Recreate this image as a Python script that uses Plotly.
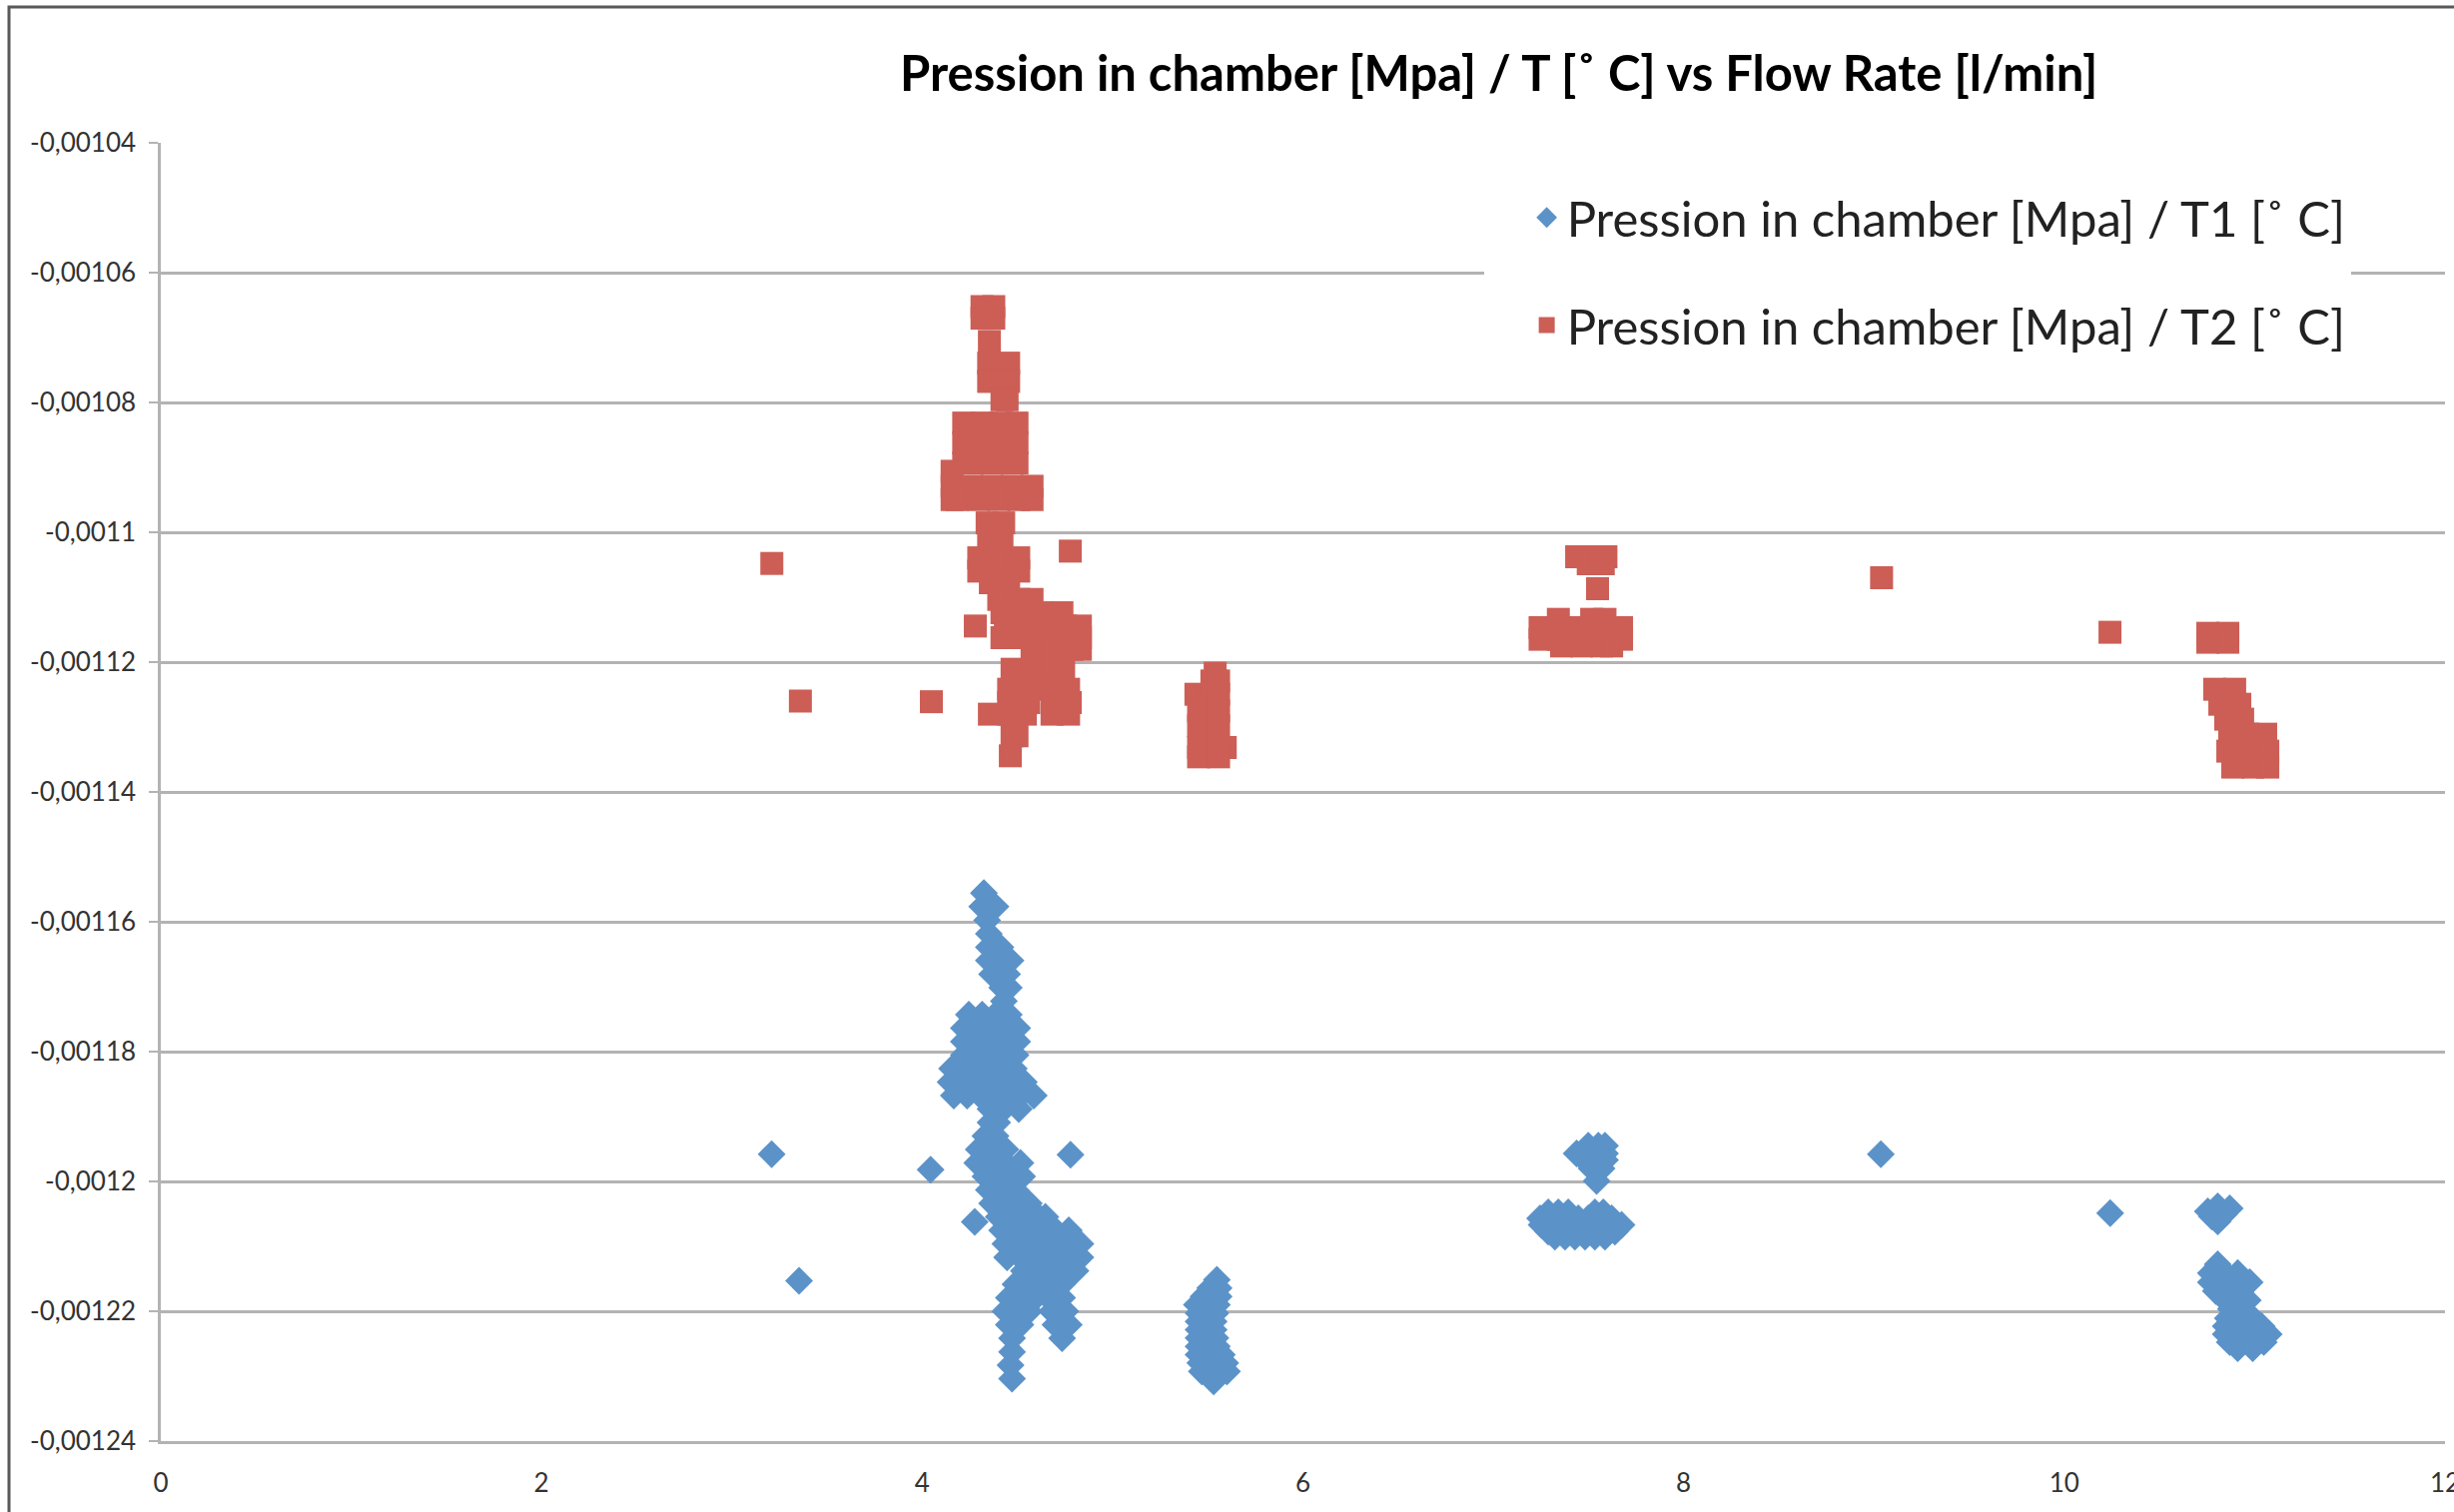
import plotly.graph_objects as go

# ---- Pression / T1 readings (flow rate [l/min], ratio [MPa/°C]) ----
t1_single = [
    (3.209, -1.1958e-3), (3.353, -1.2153e-3), (4.044, -1.1982e-3),
    (4.779, -1.1959e-3), (9.036, -1.1958e-3), (10.241, -1.2049e-3),
    (4.276, -1.20624e-3),
]
t1_run_4 = [
    (4.324, -1.15559e-3),
    (4.315, -1.15767e-3), (4.385, -1.15767e-3),
    (4.341, -1.15975e-3),
    (4.350, -1.16183e-3),
    (4.350, -1.16391e-3), (4.411, -1.16391e-3),
    (4.350, -1.16598e-3), (4.420, -1.16598e-3), (4.464, -1.16598e-3),
    (4.367, -1.16806e-3), (4.446, -1.16806e-3),
    (4.420, -1.17014e-3), (4.455, -1.17014e-3),
    (4.429, -1.17222e-3),
    (4.245, -1.17430e-3), (4.315, -1.17430e-3), (4.385, -1.17430e-3), (4.455, -1.17430e-3),
    (4.219, -1.17637e-3), (4.289, -1.17637e-3), (4.359, -1.17637e-3), (4.429, -1.17637e-3), (4.499, -1.17637e-3),
    (4.219, -1.17845e-3), (4.289, -1.17845e-3), (4.359, -1.17845e-3), (4.429, -1.17845e-3), (4.499, -1.17845e-3),
    (4.219, -1.18053e-3), (4.289, -1.18053e-3), (4.359, -1.18053e-3), (4.429, -1.18053e-3), (4.490, -1.18053e-3),
    (4.157, -1.18261e-3), (4.227, -1.18261e-3), (4.297, -1.18261e-3), (4.367, -1.18261e-3), (4.437, -1.18261e-3), (4.481, -1.18261e-3),
    (4.149, -1.18469e-3), (4.219, -1.18469e-3), (4.289, -1.18469e-3), (4.359, -1.18469e-3), (4.429, -1.18469e-3), (4.499, -1.18469e-3), (4.534, -1.18469e-3),
    (4.166, -1.18676e-3), (4.236, -1.18676e-3), (4.306, -1.18676e-3), (4.376, -1.18676e-3), (4.446, -1.18676e-3), (4.516, -1.18676e-3), (4.586, -1.18676e-3),
    (4.359, -1.18884e-3), (4.429, -1.18884e-3), (4.507, -1.18884e-3),
    (4.359, -1.19092e-3), (4.394, -1.19092e-3),
    (4.332, -1.19300e-3), (4.385, -1.19300e-3),
    (4.297, -1.19508e-3), (4.367, -1.19508e-3), (4.437, -1.19508e-3),
    (4.289, -1.19715e-3), (4.359, -1.19715e-3), (4.437, -1.19715e-3), (4.516, -1.19715e-3),
    (4.332, -1.19923e-3), (4.402, -1.19923e-3), (4.472, -1.19923e-3), (4.525, -1.19923e-3),
    (4.350, -1.20131e-3), (4.420, -1.20131e-3), (4.490, -1.20131e-3),
    (4.367, -1.20339e-3), (4.437, -1.20339e-3), (4.507, -1.20339e-3), (4.560, -1.20339e-3),
    (4.402, -1.20547e-3), (4.472, -1.20547e-3), (4.542, -1.20547e-3), (4.612, -1.20547e-3), (4.647, -1.20547e-3),
    (4.420, -1.20754e-3), (4.490, -1.20754e-3), (4.560, -1.20754e-3), (4.630, -1.20754e-3), (4.700, -1.20754e-3), (4.770, -1.20754e-3),
    (4.437, -1.20962e-3), (4.507, -1.20962e-3), (4.577, -1.20962e-3), (4.647, -1.20962e-3), (4.717, -1.20962e-3), (4.787, -1.20962e-3), (4.831, -1.20962e-3),
    (4.446, -1.21170e-3), (4.516, -1.21170e-3), (4.586, -1.21170e-3), (4.656, -1.21170e-3), (4.726, -1.21170e-3), (4.796, -1.21170e-3), (4.831, -1.21170e-3),
    (4.534, -1.21378e-3), (4.604, -1.21378e-3), (4.674, -1.21378e-3), (4.744, -1.21378e-3), (4.805, -1.21378e-3),
    (4.490, -1.21586e-3), (4.560, -1.21586e-3), (4.630, -1.21586e-3), (4.700, -1.21586e-3), (4.735, -1.21586e-3),
    (4.455, -1.21793e-3), (4.525, -1.21793e-3), (4.595, -1.21793e-3), (4.665, -1.21793e-3), (4.735, -1.21793e-3),
    (4.437, -1.22001e-3), (4.507, -1.22001e-3), (4.560, -1.22001e-3), (4.682, -1.22001e-3), (4.752, -1.22001e-3),
    (4.455, -1.22209e-3), (4.516, -1.22209e-3), (4.700, -1.22209e-3), (4.770, -1.22209e-3),
    (4.472, -1.22417e-3), (4.735, -1.22417e-3),
    (4.472, -1.22625e-3),
    (4.464, -1.22832e-3),
    (4.472, -1.23040e-3),
]
t1_run_5 = [
    (5.548, -1.21516e-3),
    (5.513, -1.21644e-3), (5.557, -1.21644e-3),
    (5.478, -1.21772e-3), (5.531, -1.21772e-3), (5.557, -1.21772e-3),
    (5.443, -1.21901e-3), (5.496, -1.21901e-3), (5.548, -1.21901e-3),
    (5.452, -1.22029e-3), (5.504, -1.22029e-3), (5.540, -1.22029e-3),
    (5.452, -1.22157e-3), (5.496, -1.22157e-3), (5.531, -1.22157e-3),
    (5.452, -1.22285e-3), (5.496, -1.22285e-3), (5.531, -1.22285e-3),
    (5.452, -1.22413e-3), (5.496, -1.22413e-3), (5.540, -1.22413e-3),
    (5.452, -1.22541e-3), (5.496, -1.22541e-3), (5.548, -1.22541e-3),
    (5.452, -1.22669e-3), (5.504, -1.22669e-3), (5.557, -1.22669e-3), (5.574, -1.22669e-3),
    (5.461, -1.22798e-3), (5.513, -1.22798e-3), (5.566, -1.22798e-3), (5.592, -1.22798e-3),
    (5.469, -1.22926e-3), (5.522, -1.22926e-3), (5.574, -1.22926e-3), (5.601, -1.22926e-3),
    (5.531, -1.23080e-3),
]
t1_run_7 = [
    (7.499, -1.19450e-3), (7.552, -1.19450e-3), (7.587, -1.19450e-3),
    (7.438, -1.19568e-3), (7.508, -1.19568e-3), (7.587, -1.19568e-3),
    (7.482, -1.19671e-3), (7.552, -1.19671e-3), (7.587, -1.19671e-3),
    (7.517, -1.19799e-3), (7.569, -1.19799e-3),
    (7.543, -1.19994e-3),
    (7.289, -1.20475e-3), (7.342, -1.20475e-3), (7.394, -1.20475e-3), (7.534, -1.20475e-3), (7.578, -1.20475e-3),
    (7.246, -1.20568e-3), (7.307, -1.20568e-3), (7.377, -1.20568e-3), (7.447, -1.20568e-3), (7.499, -1.20568e-3), (7.569, -1.20568e-3), (7.622, -1.20568e-3),
    (7.254, -1.20670e-3), (7.324, -1.20670e-3), (7.394, -1.20670e-3), (7.464, -1.20670e-3), (7.534, -1.20670e-3), (7.604, -1.20670e-3), (7.674, -1.20670e-3),
    (7.289, -1.20773e-3), (7.359, -1.20773e-3), (7.429, -1.20773e-3), (7.499, -1.20773e-3), (7.569, -1.20773e-3), (7.639, -1.20773e-3),
    (7.324, -1.20850e-3), (7.377, -1.20850e-3), (7.429, -1.20850e-3), (7.482, -1.20850e-3), (7.534, -1.20850e-3), (7.587, -1.20850e-3),
]
t1_run_11 = [
    (10.806, -1.20383e-3), (10.754, -1.20460e-3), (10.869, -1.20414e-3),
    (10.838, -1.20506e-3), (10.775, -1.20537e-3), (10.806, -1.20614e-3),
    (10.806, -1.21275e-3),
    (10.770, -1.21413e-3), (10.843, -1.21413e-3), (10.911, -1.21413e-3),
    (10.770, -1.21552e-3), (10.833, -1.21552e-3), (10.901, -1.21552e-3), (10.974, -1.21552e-3),
    (10.796, -1.21690e-3), (10.859, -1.21690e-3), (10.927, -1.21690e-3),
    (10.848, -1.21829e-3), (10.911, -1.21829e-3), (10.964, -1.21829e-3),
    (10.875, -1.21967e-3), (10.937, -1.21967e-3),
    (10.859, -1.22106e-3), (10.922, -1.22106e-3), (10.990, -1.22106e-3),
    (10.848, -1.22229e-3), (10.911, -1.22229e-3), (10.974, -1.22229e-3), (11.037, -1.22229e-3),
    (10.848, -1.22352e-3), (10.911, -1.22352e-3), (10.974, -1.22352e-3), (11.037, -1.22352e-3), (11.074, -1.22352e-3),
    (10.869, -1.22475e-3), (10.932, -1.22475e-3), (10.995, -1.22475e-3), (11.048, -1.22475e-3),
    (10.911, -1.22568e-3), (10.990, -1.22568e-3),
]

# ---- Pression / T2 readings ----
t2_single = [
    (3.210, -1.1048e-3), (3.360, -1.1260e-3), (4.048, -1.1261e-3),
    (4.778, -1.1029e-3), (9.040, -1.1070e-3), (10.240, -1.1154e-3),
]
t2_run_4 = [
    (4.314, -1.06523e-3), (4.376, -1.06523e-3),
    (4.314, -1.06702e-3), (4.376, -1.06702e-3),
    (4.353, -1.07061e-3),
    (4.349, -1.07394e-3), (4.454, -1.07394e-3),
    (4.349, -1.07676e-3), (4.454, -1.07676e-3),
    (4.419, -1.07958e-3), (4.446, -1.07958e-3),
    (4.218, -1.08317e-3), (4.314, -1.08317e-3), (4.411, -1.08317e-3), (4.498, -1.08317e-3),
    (4.218, -1.08625e-3), (4.314, -1.08625e-3), (4.411, -1.08625e-3), (4.498, -1.08625e-3),
    (4.218, -1.08932e-3), (4.314, -1.08932e-3), (4.411, -1.08932e-3), (4.498, -1.08932e-3),
    (4.157, -1.09060e-3),
    (4.157, -1.09291e-3), (4.262, -1.09291e-3), (4.367, -1.09291e-3), (4.472, -1.09291e-3), (4.577, -1.09291e-3),
    (4.157, -1.09496e-3), (4.183, -1.09496e-3), (4.297, -1.09496e-3), (4.402, -1.09496e-3), (4.507, -1.09496e-3), (4.577, -1.09496e-3),
    (4.341, -1.09855e-3), (4.428, -1.09855e-3),
    (4.349, -1.10060e-3), (4.419, -1.10060e-3),
    (4.297, -1.10393e-3), (4.402, -1.10393e-3), (4.507, -1.10393e-3),
    (4.297, -1.10598e-3), (4.402, -1.10598e-3), (4.507, -1.10598e-3),
    (4.358, -1.10777e-3), (4.454, -1.10777e-3),
    (4.402, -1.11034e-3), (4.507, -1.11034e-3), (4.577, -1.11034e-3),
    (4.419, -1.11239e-3), (4.524, -1.11239e-3), (4.629, -1.11239e-3), (4.734, -1.11239e-3),
    (4.279, -1.11444e-3), (4.437, -1.11444e-3), (4.542, -1.11444e-3), (4.647, -1.11444e-3), (4.752, -1.11444e-3), (4.831, -1.11444e-3),
    (4.419, -1.11623e-3), (4.524, -1.11623e-3), (4.629, -1.11623e-3), (4.734, -1.11623e-3), (4.831, -1.11623e-3),
    (4.577, -1.11803e-3), (4.682, -1.11803e-3), (4.787, -1.11803e-3), (4.831, -1.11803e-3),
    (4.472, -1.12110e-3), (4.577, -1.12110e-3), (4.682, -1.12110e-3), (4.743, -1.12110e-3),
    (4.454, -1.12418e-3), (4.559, -1.12418e-3), (4.664, -1.12418e-3), (4.769, -1.12418e-3),
    (4.454, -1.12623e-3), (4.559, -1.12623e-3), (4.682, -1.12623e-3), (4.778, -1.12623e-3),
    (4.353, -1.12802e-3), (4.454, -1.12802e-3), (4.542, -1.12802e-3), (4.682, -1.12802e-3), (4.769, -1.12802e-3),
    (4.472, -1.13135e-3), (4.498, -1.13135e-3),
    (4.463, -1.13443e-3),
]
t2_run_5 = [
    (5.539, -1.12172e-3),
    (5.522, -1.12290e-3), (5.557, -1.12290e-3),
    (5.438, -1.12495e-3), (5.522, -1.12495e-3), (5.557, -1.12495e-3),
    (5.452, -1.12751e-3), (5.557, -1.12751e-3),
    (5.452, -1.12982e-3), (5.557, -1.12982e-3),
    (5.452, -1.13315e-3), (5.557, -1.13315e-3), (5.592, -1.13315e-3),
    (5.452, -1.13459e-3), (5.557, -1.13459e-3),
]
t2_run_7 = [
    (7.438, -1.10377e-3), (7.517, -1.10377e-3), (7.592, -1.10377e-3),
    (7.499, -1.10485e-3), (7.578, -1.10485e-3),
    (7.548, -1.10869e-3),
    (7.342, -1.11341e-3), (7.517, -1.11341e-3), (7.587, -1.11341e-3),
    (7.246, -1.11469e-3), (7.342, -1.11469e-3), (7.429, -1.11469e-3), (7.517, -1.11469e-3), (7.604, -1.11469e-3), (7.674, -1.11469e-3),
    (7.246, -1.11648e-3), (7.342, -1.11648e-3), (7.429, -1.11648e-3), (7.517, -1.11648e-3), (7.604, -1.11648e-3), (7.674, -1.11648e-3),
    (7.359, -1.11751e-3), (7.464, -1.11751e-3), (7.569, -1.11751e-3), (7.622, -1.11751e-3),
]
t2_run_11 = [
    (10.754, -1.11556e-3), (10.859, -1.11556e-3), (10.806, -1.11633e-3),
    (10.754, -1.11694e-3), (10.859, -1.11694e-3),
    (10.790, -1.12418e-3), (10.895, -1.12418e-3),
    (10.817, -1.12649e-3), (10.922, -1.12649e-3),
    (10.848, -1.12879e-3), (10.937, -1.12879e-3),
    (10.869, -1.13110e-3), (10.964, -1.13110e-3), (11.058, -1.13110e-3),
    (10.859, -1.13371e-3), (10.964, -1.13371e-3), (11.069, -1.13371e-3),
    (10.885, -1.13617e-3), (10.990, -1.13617e-3), (11.069, -1.13617e-3),
]

x_ticks = [0, 2, 4, 6, 8, 10, 12]
y_ticks = [-0.00104, -0.00106, -0.00108, -0.0011, -0.00112, -0.00114,
           -0.00116, -0.00118, -0.0012, -0.00122, -0.00124]
y_tick_labels = ["-0,00104", "-0,00106", "-0,00108", "-0,0011", "-0,00112",
                 "-0,00114", "-0,00116", "-0,00118", "-0,0012", "-0,00122",
                 "-0,00124"]

t1_points = t1_single + t1_run_4 + t1_run_5 + t1_run_7 + t1_run_11
t2_points = t2_single + t2_run_4 + t2_run_5 + t2_run_7 + t2_run_11
flow_t1, p_t1 = zip(*t1_points)
flow_t2, p_t2 = zip(*t2_points)

BLUE = "#5B93C9"
RED = "#CC5E56"
GRID = "#B3B3B3"
FONT = "Lato"

fig = go.Figure()
fig.add_trace(go.Scatter(
    x=list(flow_t1), y=list(p_t1), mode="markers", legendgroup="t1",
    name="Pression in chamber [Mpa] / T1 [˚ C]",
    marker=dict(symbol="diamond", size=21.5, color=BLUE, line=dict(width=0)),
))
fig.add_trace(go.Scatter(
    x=list(flow_t2), y=list(p_t2), mode="markers", legendgroup="t2",
    name="Pression in chamber [Mpa] / T2 [˚ C]",
    marker=dict(symbol="square", size=23, color=RED, line=dict(width=0)),
))

fig.update_layout(
    width=2457, height=1514,
    margin=dict(l=161, r=9, t=143, b=71, pad=0, autoexpand=False),
    paper_bgcolor="white", plot_bgcolor="white",
    font=dict(family=FONT, color="#333333"),
    title=dict(
        text="Pression in chamber [Mpa] / T [˚ C] vs Flow Rate [l/min]",
        x=901 / 2457, xanchor="left", y=1 - 74 / 1514, yanchor="middle",
        font=dict(family=FONT, size=49, color="#000000", weight="bold"),
    ),
    xaxis=dict(
        range=[0, 12], tickvals=x_ticks, ticks="", showgrid=False,
        zeroline=False, showline=True, linecolor=GRID, linewidth=2.5,
        tickfont=dict(size=26, color="#333333"), ticklabelstandoff=17,
        ticklabeloverflow="allow", automargin=False,
    ),
    xaxis2=dict(
        overlaying="x", side="top", anchor="y", range=[0, 12],
        tickvals=x_ticks, ticks="inside", ticklen=9, tickwidth=2,
        tickcolor=GRID, showticklabels=False, showgrid=False,
        zeroline=False, showline=True, linecolor=GRID, linewidth=2.5,
        automargin=False,
    ),
    yaxis=dict(
        range=[-0.00124, -0.00104], tickvals=y_ticks, ticktext=y_tick_labels,
        showgrid=True, gridcolor=GRID, gridwidth=2.5, zeroline=False,
        showline=True, linecolor=GRID, linewidth=2.5,
        ticks="outside", ticklen=9, tickwidth=2, tickcolor=GRID,
        tickfont=dict(size=26, color="#333333"), ticklabelstandoff=8,
        automargin=False,
    ),
    legend=dict(
        x=0.598, y=0.972, xanchor="left", yanchor="top",
        bgcolor="white", borderwidth=0, traceorder="grouped",
        tracegroupgap=41, font=dict(family=FONT, size=49, color="#222222"),
    ),
    showlegend=True,
)

# outer chart frame
fig.add_shape(
    type="rect", xref="paper", yref="paper",
    x0=(9 - 161) / 2287, x1=1.3, y0=-0.3, y1=(1443 - 7) / 1300,
    line=dict(color="#595959", width=3), fillcolor="rgba(0,0,0,0)",
    layer="below",
)
# white backing that extends the legend panel to the left
fig.add_shape(
    type="rect", xref="paper", yref="paper",
    x0=(1486 - 161) / 2287, x1=0.605, y0=(1443 - 395) / 1300,
    y1=(1443 - 150) / 1300,
    line=dict(width=0), fillcolor="white", layer="above",
)

fig.write_html("out.html")
